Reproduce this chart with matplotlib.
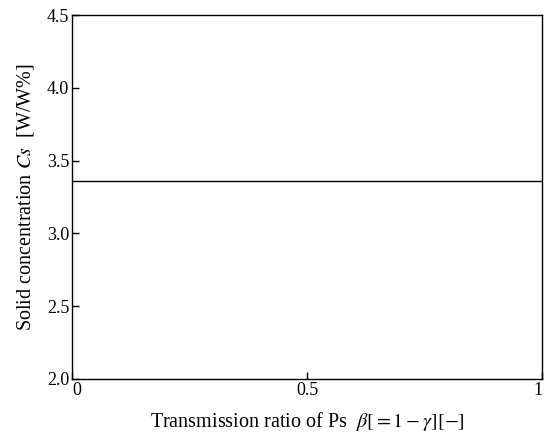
import matplotlib
matplotlib.use("Agg")
import matplotlib.pyplot as plt

# Datos
beta = [0.0, 1.0]
cs = [3.36, 3.36]

x_ticks = [0, 0.5, 1]
x_tick_labels = ["0", "0.5", "1"]
y_ticks = [2.0, 2.5, 3.0, 3.5, 4.0, 4.5]
y_tick_labels = ["2.0", "2.5", "3.0", "3.5", "4.0", "4.5"]

plt.rcParams['font.family'] = ['Liberation Serif', 'DejaVu Serif']
plt.rcParams['mathtext.fontset'] = 'stix'

fig = plt.figure(figsize=(5.46, 4.32), dpi=100)
ax = fig.add_axes([0.132, 0.123, 0.861, 0.842])

ax.plot(beta, cs, color="black", linewidth=1.0)

ax.set_xlim(0, 1)
ax.set_ylim(2.0, 4.5)
ax.set_xticks(x_ticks)
ax.set_xticklabels(x_tick_labels)
ax.set_yticks(y_ticks)
ax.set_yticklabels(y_tick_labels)
ax.tick_params(direction="in", length=5, width=1, labelsize=13, pad=2)

# alineacion de las etiquetas del eje x como en la figura original
xl = ax.get_xticklabels()
xl[0].set_horizontalalignment("left")
xl[1].set_horizontalalignment("center")
xl[2].set_horizontalalignment("right")

for s in ax.spines.values():
    s.set_linewidth(1.0)
    s.set_color("black")

ax.set_xlabel(r"Transmission ratio of Ps  $\beta[=1-\gamma][-]$", fontsize=14.5, labelpad=8)
ax.set_ylabel(r"Solid concentration $Cs$  [W/W%]", fontsize=14.5, labelpad=8)

fig.savefig("out.png", dpi=100)
